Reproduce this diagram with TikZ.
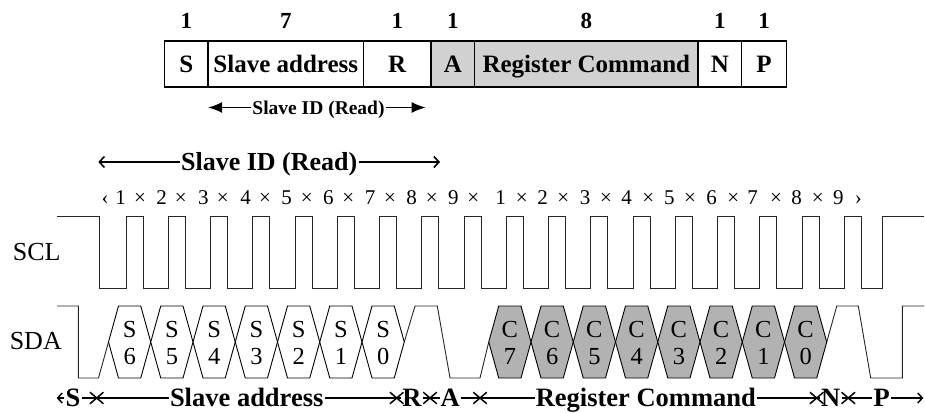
\documentclass[tikz,border=0pt]{standalone}
\usepackage{fontspec}
\setmainfont{Liberation Serif}
\usetikzlibrary{arrows.meta,shapes.misc}
\newcommand{\myfs}[1]{\fontsize{#1}{#1}\selectfont}
\begin{document}
\begin{tikzpicture}[x=1pt,y=-1pt,
  wave/.style={line width=0.9pt, draw=black!85, line join=miter},
  frame/.style={draw, line width=1.3pt, inner sep=0pt, minimum height=46pt, text height=16.5pt, text depth=0pt, font=\bfseries\myfs{25}},
  grayframe/.style={frame, fill=black!18},
  bitnum/.style={inner sep=0pt, text height=15.5pt, text depth=0pt, font=\bfseries\myfs{23}},
  smallid/.style={inner sep=1pt, text height=13pt, text depth=0pt, font=\bfseries\myfs{19.5}},
  bigid/.style={inner sep=1pt, text height=17.5pt, text depth=0pt, font=\bfseries\myfs{26}},
  clk/.style={inner sep=0pt, font=\myfs{21}},
  sig/.style={inner sep=0pt, text height=17pt, text depth=0pt, font=\myfs{26}},
  hexS/.style={draw=black, line width=0.9pt, fill=white, line join=miter},
  hexC/.style={draw=black, line width=0.9pt, fill=black!30, line join=miter},
  hexlbl/.style={align=center, inner sep=0pt, font={\fontsize{24.5}{27.5}\selectfont}},
  field/.style={inner sep=1pt, text height=17.5pt, text depth=0pt, font=\bfseries\myfs{26.5}},
  xmark/.style={cross out, draw, line width=1.5pt, minimum width=12pt, minimum height=10pt, inner sep=0pt},
  bline/.style={line width=1.5pt},
  smallarrow/.style={line width=1.6pt, -{Latex[length=14pt,width=11pt]}},
  bigarrow/.style={line width=1.6pt, -{Straight Barb[length=5pt,width=11pt,line width=1.6pt]}},
  endarrow/.style={line width=1.5pt, -{Straight Barb[length=4.5pt,width=10pt,line width=1.5pt]}}
]
\useasboundingbox (0,0) rectangle (925,412);

% ---------- top frame ----------
\node[frame, minimum width=43.5pt]  (bS)  at (186.25,64) {S};
\node[frame, minimum width=155.5pt] (bSA) at (285.75,64) {Slave address};
\node[frame, minimum width=67.5pt]  (bR)  at (397.25,64) {R};
\node[grayframe, minimum width=43.6pt] (bA) at (452.8,64) {A};
\node[grayframe, minimum width=223.4pt] (bRC) at (586.3,64) {Register Command};
\node[frame, minimum width=43.6pt]  (bN)  at (719.8,64) {N};
\node[frame, minimum width=44.8pt]  (bP)  at (764,64) {P};

\node[bitnum] (t1) at (186.25,20.5) {1};
\node[bitnum] (t2) at (285.75,20.5) {7};
\node[bitnum] (t3) at (397.25,20.5) {1};
\node[bitnum] (t4) at (452.8,20.5) {1};
\node[bitnum] (t5) at (586.3,20.5) {8};
\node[bitnum] (t6) at (719.8,20.5) {1};
\node[bitnum] (t7) at (764,20.5) {1};

% small Slave ID arrow
\node[smallid] (sid) at (318.5,107.5) {Slave ID (Read)};
\coordinate (sidL) at (208,107.5);
\coordinate (sidR) at (425.7,107.5);
\draw[smallarrow] (sid.west) -- (sidL);
\draw[smallarrow] (sid.east) -- (sidR);

% big Slave ID arrow
\node[bigid] (bid) at (269.2,162) {Slave ID (Read)};
\coordinate (bidL) at (98.3,162);
\coordinate (bidR) at (440,162);
\draw[bigarrow] (bid.west) -- (bidL);
\draw[bigarrow] (bid.east) -- (bidR);

% clock count row
\node[clk, anchor=base] (gl) at (105,204) {‹};
\node[clk, anchor=base] (gr) at (858.3,204) {›};
\foreach \x/\n [count=\i] in {120.7/1,161.7/2,203.3/3,245.7/4,286.7/5,328.3/6,370/7,411.7/8,453.3/9,
  500.7/1,542.7/2,585/3,626.7/4,669.3/5,711.7/6,752.7/7,796.7/8,838.3/9}
  \node[clk, anchor=base] (d\i) at (\x,204) {\n};
\foreach \x [count=\i] in {140,180.7,222.7,265,306.7,348.3,390,431.7,473.3,
  521.7,563.3,606,648.3,690,733.3,776,817.7}
  \node[clk, anchor=base] (m\i) at (\x,204) {×};

% signal names
\node[sig] (scl) at (36.7,251.7) {SCL};
\node[sig] (sda) at (35.8,341) {SDA};

% ---------- SCL waveform ----------
\draw[wave] (57,216) -- (99,216) -- (99,288)
  \foreach \k in {0,...,17} {
    -- ({126+42.25*\k},288) -- ({126+42.25*\k},216) -- ({143+42.25*\k},216) -- ({143+42.25*\k},288)
  }
  -- (882,288) -- (882,216) -- (924,216);

% ---------- SDA waveform ----------
\draw[wave] (57,306) -- (78.3,306) -- (78.3,378) -- (98.5,378) -- (108.5,342);
\draw[wave] (404.25,342) -- (415,306) -- (437.3,306) -- (450,378) -- (480,378) -- (488.75,342);
\draw[wave] (826.75,342) -- (836.75,306) -- (858.3,306) -- (870.7,378) -- (902.3,378) -- (902.3,306) -- (924,306);

\foreach \k/\b in {0/6,1/5,2/4,3/3,4/2,5/1,6/0} {
  \pgfmathsetmacro\ca{108.5+42.25*\k}
  \pgfmathsetmacro\cb{\ca+42.25}
  \draw[hexS] (\ca,342) -- ({\ca+10},306) -- ({\cb-10},306) -- (\cb,342) -- ({\cb-10},378) -- ({\ca+10},378) -- cycle;
  \node[hexlbl] (s\b) at ({(\ca+\cb)/2},343) {S\\\b};
}
\foreach \k/\b in {9/7,10/6,11/5,12/4,13/3,14/2,15/1,16/0} {
  \pgfmathsetmacro\ca{108.5+42.25*\k}
  \pgfmathsetmacro\cb{\ca+42.25}
  \draw[hexC] (\ca,342) -- ({\ca+10},306) -- ({\cb-10},306) -- (\cb,342) -- ({\cb-10},378) -- ({\ca+10},378) -- cycle;
  \node[hexlbl] (c\b) at ({(\ca+\cb)/2},343) {C\\\b};
}

% ---------- bottom field labels ----------
\coordinate (Lend) at (56.7,398);
\coordinate (Rend) at (923.3,398);
\node[field] (fS)  at (73,398) {S};
\node[field] (fSA) at (246.7,398) {Slave address};
\node[field] (fR)  at (412,398) {R};
\node[field] (fA)  at (450.3,398) {A};
\node[field] (fRC) at (645.8,398) {Register Command};
\node[field] (fN)  at (830.8,398) {N};
\node[field] (fP)  at (881.7,398) {P};

\draw[endarrow] (fS.west) -- (Lend);
\draw[bline] (fS.east) -- (fSA.west);
\draw[bline] (fSA.east) -- (fR.west);
\draw[bline] (fR.east) -- (fA.west);
\draw[bline] (fA.east) -- (fRC.west);
\draw[bline] (fRC.east) -- (fN.west);
\draw[bline] (fN.east) -- (fP.west);
\draw[endarrow] (fP.east) -- (Rend);

\node[xmark] (x1) at (96.7,398) {};
\node[xmark] (x2) at (396.7,398) {};
\node[xmark] (x3) at (430,398) {};
\node[xmark] (x4) at (480,398) {};
\node[xmark] (x5) at (816.7,398) {};
\node[xmark] (x6) at (848.3,398) {};
\end{tikzpicture}
\end{document}
